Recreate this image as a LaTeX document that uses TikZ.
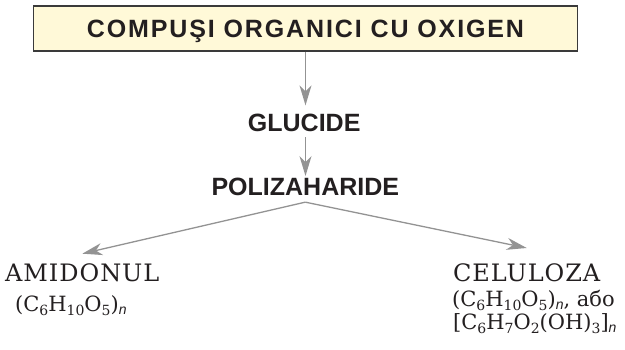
\documentclass[tikz,border=0pt]{standalone}
\usepackage{fontspec}
\setmainfont{DejaVu Serif}
\setsansfont{Liberation Sans}
\newfontfamily\titlefamily[LetterSpace=7.5]{Liberation Sans}
\newfontfamily\namefamily[LetterSpace=4]{DejaVu Serif}
\usetikzlibrary{arrows.meta}
\definecolor{boxfill}{HTML}{FFF9D8}
\definecolor{boxline}{HTML}{3A3A3A}
\definecolor{arrowgray}{HTML}{939393}
\definecolor{ink}{HTML}{231F20}
\newcommand{\titlefont}{\titlefamily\bfseries\fontsize{25}{30}\selectfont}
\newcommand{\headfont}{\sffamily\bfseries\fontsize{25}{30}\selectfont}
\newcommand{\namefont}{\namefamily\fontsize{24}{28}\selectfont}
\newcommand{\formfont}{\fontsize{21}{24}\selectfont}
\newcommand{\chsub}[1]{\raisebox{-4pt}{\fontsize{14}{15}\selectfont #1}}
\newcommand{\chn}{\raisebox{-3.5pt}{\fontsize{14}{15}\sffamily\itshape n}}
\tikzset{
  titlebox/.style={draw=boxline,fill=boxfill,line width=1.2pt,minimum width=544pt,
    minimum height=45pt,text height=18pt,text depth=0pt,font=\titlefont,text=ink},
  heading/.style={font=\headfont,text=ink,inner sep=0pt},
  compound/.style={font=\namefont,text=ink,inner sep=0pt},
  formula/.style={font=\formfont,text=ink,inner sep=0pt},
  link/.style={-{Stealth[length=20pt,width=12pt,inset=6pt]},draw=arrowgray,line width=1.3pt}
}

\begin{document}
\begin{tikzpicture}[x=1pt,y=-1pt]
  \useasboundingbox (0,0) rectangle (625,349);
  % levels
  \node[titlebox] (title) at (305.5,28.5) {COMPUŞI ORGANICI CU OXIGEN};
  \node[heading,anchor=base] (glucide) at (304.2,131) {GLUCIDE};
  \node[heading,anchor=base] (poli) at (305.3,195.7) {POLIZAHARIDE};
  % the two polysaccharides
  \node[compound,anchor=base west] (amidon) at (5,281.7) {AMIDONUL};
  \node[formula,anchor=base west] (amidonf) at (15,311) {(C\chsub{6}H\chsub{10}O\chsub{5})\chn};
  \node[compound,anchor=base west] (celuloza) at (453,281) {CELULOZA};
  \node[formula,anchor=base west] (celulozaf) at (452,306) {(C\chsub{6}H\chsub{10}O\chsub{5})\chn, або};
  \node[formula,anchor=base west] (celulozag) at (453,329) {[C\chsub{6}H\chsub{7}O\chsub{2}(OH)\chsub{3}]\chn};
  % arrows
  \draw[link,shorten >=8pt] (title.south) -- (title.south |- glucide.north);
  \draw[link,shorten <=6pt,shorten >=2pt] (glucide.south -| title) -- (title |- poli.north);
  \draw[link] ([yshift=-6pt]poli.south) -- ([yshift=10pt]amidon.north);
  \draw[link] ([yshift=-6pt]poli.south) -- ([yshift=15pt]celuloza.north);
\end{tikzpicture}
\end{document}
